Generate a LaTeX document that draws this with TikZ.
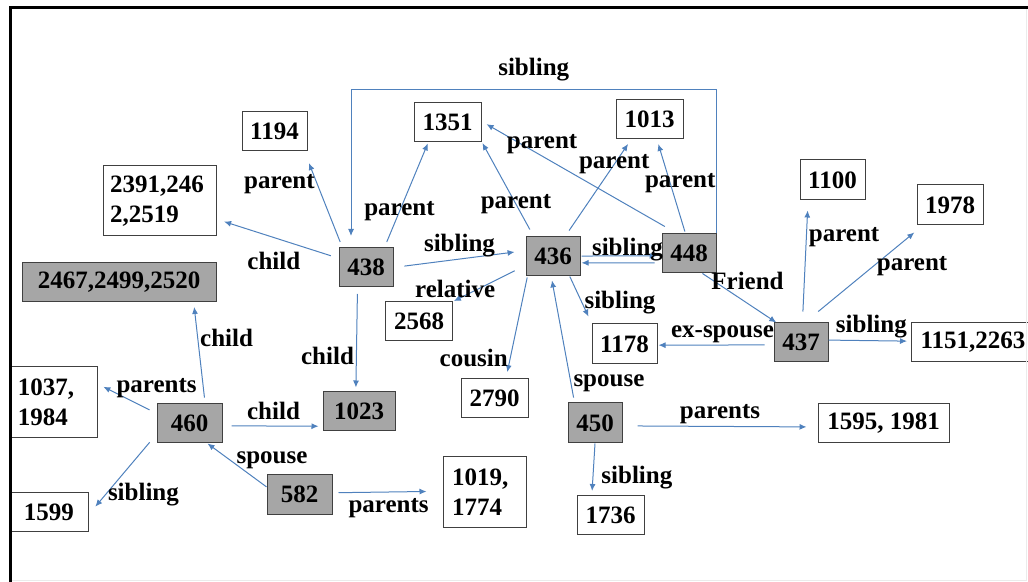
\documentclass[tikz,border=0pt]{standalone}
\usepackage{fontspec}
\setmainfont{Liberation Serif}
\usetikzlibrary{arrows.meta}
\definecolor{relblue}{RGB}{79,129,189}
\definecolor{boxgray}{RGB}{166,166,166}
\definecolor{boxline}{RGB}{64,64,64}
\tikzset{
  rel/.style={draw=relblue, line width=0.5pt, -{Latex[length=3.5pt,width=3pt]}},
  idbox/.style={draw=boxline, line width=0.5pt, inner sep=0pt, minimum height=19.5pt,
    font=\fontsize{12.5}{15}\selectfont\bfseries},
  keybox/.style={idbox, fill=boxgray},
  lbl/.style={inner sep=1pt, font=\fontsize{12.5}{15}\selectfont\bfseries}
}
\begin{document}
\begin{tikzpicture}[x=0.5pt, y=-0.5pt]
            \useasboundingbox (0,0) rectangle (1028,582);

            \node[keybox, minimum width=27pt] (p438) at (366,267) {438};
            \node[keybox, minimum width=27pt] (p436) at (553,256.5) {436};
            \node[keybox, minimum width=27pt] (p448) at (689,253.5) {448};
            \node[keybox, minimum width=27pt] (p437) at (801,342.5) {437};
            \node[keybox, minimum width=27pt, minimum height=20pt] (p450) at (595,423) {450};
            \node[keybox, minimum width=32.5pt] (p460) at (189.5,423.5) {460};
            \node[keybox, minimum width=32.5pt] (p582) at (299.5,494.5) {582};
            \node[keybox, minimum width=36pt] (p1023) at (359,411.5) {1023};
            \node[keybox, minimum width=97pt] (p2467) at (119,282) {2467,2499,2520};

            \node[idbox, minimum width=32.5pt] (p1194) at (274.5,131) {1194};
            \node[idbox, minimum width=33.5pt] (p1351) at (447.5,122.5) {1351};
            \node[idbox, minimum width=33.5pt] (p1013) at (649.5,119) {1013};
            \node[idbox, minimum width=32.5pt, minimum height=20pt] (p1100) at (832.5,180) {1100};
            \node[idbox, minimum width=33pt, minimum height=20pt] (p1978) at (950,205) {1978};
            \node[idbox, minimum width=32.5pt, minimum height=20pt] (p1178) at (624.5,344) {1178};
            \node[idbox, minimum width=33.5pt] (p2568) at (419,321.5) {2568};
            \node[idbox, minimum width=33.5pt] (p2790) at (494.5,398) {2790};
            \node[idbox, minimum width=39pt] (p1599) at (49,512) {1599};
            \node[idbox, minimum width=65.5pt] (p1595) at (883.5,423.5) {1595, 1981};
            \node[idbox, minimum width=33.5pt] (p1736) at (610.5,515) {1736};
            \node[idbox, anchor=west, inner xsep=4.5pt] (p1151) at (911,342) {1151,2263};
            \node[idbox, align=left, text width=49.5pt, inner xsep=3.5pt, minimum height=35pt] (p2391) at (159.5,201) {2391,246\\2,2519};
            \node[idbox, align=left, text width=35.5pt, inner xsep=4pt, minimum height=35.5pt] (p1037) at (53.5,402.5) {1037,\\1984};
            \node[idbox, align=left, text width=32.5pt, inner xsep=4.5pt, minimum height=35pt] (p1019) at (484.5,492) {1019,\\1774};

            \path (p438) edge[rel, shorten <=4pt, shorten >=4pt] node[lbl, pos=0.53, below=6pt] {child} (p2391);
            \path (p438.140) edge[rel, shorten <=2.7pt, shorten >=6.5pt] node[lbl, pos=0.66, left] {parent} (p1194.326);
            \path (p438.47) edge[rel, shorten <=2.7pt, shorten >=0.5pt] node[lbl, pos=0.34] {parent} (p1351.226);
            \path (p438.359) edge[rel, shorten <=5.5pt, shorten >=5.5pt] node[lbl, pos=0.5, above] {sibling} (p436.168);
            \path (p438.247) edge[rel, shorten <=3.5pt, shorten >=2pt] node[lbl, pos=0.66, left] {child} (p1023.99);

            \coordinate (sibtop) at (351,90);
            \draw[rel, shorten >=5.5pt] (p448.north east) |- node[lbl, pos=0.75, above=3pt] {sibling} (sibtop) -- (sibtop |- p438.north);

            \path (p436.198) edge[rel, shorten <=6pt, shorten >=0.5pt] node[lbl, pos=0.97, above] {relative} (p2568.north east);
            \path (p436.134) edge[rel, shorten <=4pt, shorten >=1pt] node[lbl, pos=0.34] {parent} (p1351.331);
            \path (p436.59) edge[rel, shorten <=3.6pt, shorten >=3pt] node[lbl, pos=0.74] {parent} (p1013.228);
            \path (p436.1) edge[rel, shorten <=0.5pt, shorten >=2.5pt] node[lbl, pos=0.58, anchor=base] {sibling} (p448.185);
            \path (p436.310) edge[rel, shorten >=3.8pt] node[lbl, pos=0.56, right] {sibling} (p1178.148);
            \path (p436.218) edge[rel, shorten <=0.5pt, shorten >=3pt] node[lbl, pos=0.8, left] {cousin} (p2790.60);

            \path (p448.199) edge[rel, shorten <=3.5pt, shorten >=0.5pt] (p436.347);
            \path (p448.121) edge[rel, shorten <=7pt, shorten >=2.9pt] node[lbl, pos=0.69, above] {parent} (p1351.2);
            \path (p448.100) edge[rel, shorten <=1pt, shorten >=2.6pt] node[lbl, pos=0.53, xshift=5pt] {parent} (p1013.290);
            \path (p448.304) edge[rel] node[lbl, pos=0.61, above=5.5pt] {Friend} (p437.141);

            \path (p437.86) edge[rel, shorten <=5.5pt, shorten >=5pt] node[lbl, pos=0.7, right] {parent} (p1100.220);
            \path (p437.79) edge[rel, shorten <=8.6pt, shorten >=5.5pt] node[lbl, pos=0.64, below right=-3pt] {parent} (p1978.217);
            \path (p437.185) edge[rel, shorten <=4.5pt, shorten >=0.5pt] node[lbl, pos=0.44, above] {ex-spouse} (p1178.358);
            \path (p437.5) edge[rel, shorten >=2pt] node[lbl, pos=0.52, above] {sibling} (p1151);

            \path (p450.135) edge[rel, shorten <=2.5pt, shorten >=2pt] node[lbl, pos=0.15, right] {spouse} (p436.265);
            \path (p450.354) edge[rel, shorten <=7.5pt, shorten >=5.5pt] node[lbl, pos=0.5, above] {parents} (p1595.183);
            \path (p450.south) edge[rel, shorten >=2pt] node[lbl, pos=0.66, right=3pt] {sibling} (p1736.133);

            \path (p460.52) edge[rel, shorten <=3pt, shorten >=2.5pt] node[lbl, pos=0.65, right] {child} (p2467.345);
            \path (p460.163) edge[rel, shorten <=3.9pt, shorten >=3.3pt] node[lbl, pos=0.72, anchor=base west] {parents} (p1037.23);
            \path (p460.356) edge[rel, shorten <=4.5pt, shorten >=2pt] node[lbl, pos=0.51, above=2pt] {child} (p1023.202);
            \path (p460.198) edge[rel, shorten <=5.3pt, shorten >=5.3pt] node[lbl, pos=0.75, right] {sibling} (p1599.356);

            \path (p582.167) edge[rel] node[lbl, pos=0.55, anchor=base west] {spouse} (p460.312);
            \path (p582.3) edge[rel, shorten <=3pt, shorten >=8pt] node[lbl, pos=0.51, below=2pt] {parents} (p1019.179);

            \draw[black!8, line width=0.5pt] (10,8) rectangle (1026,580);
            \draw[line width=1.5pt] (10,582) -- (10,8) -- (1028,8);

\end{tikzpicture}
\end{document}
